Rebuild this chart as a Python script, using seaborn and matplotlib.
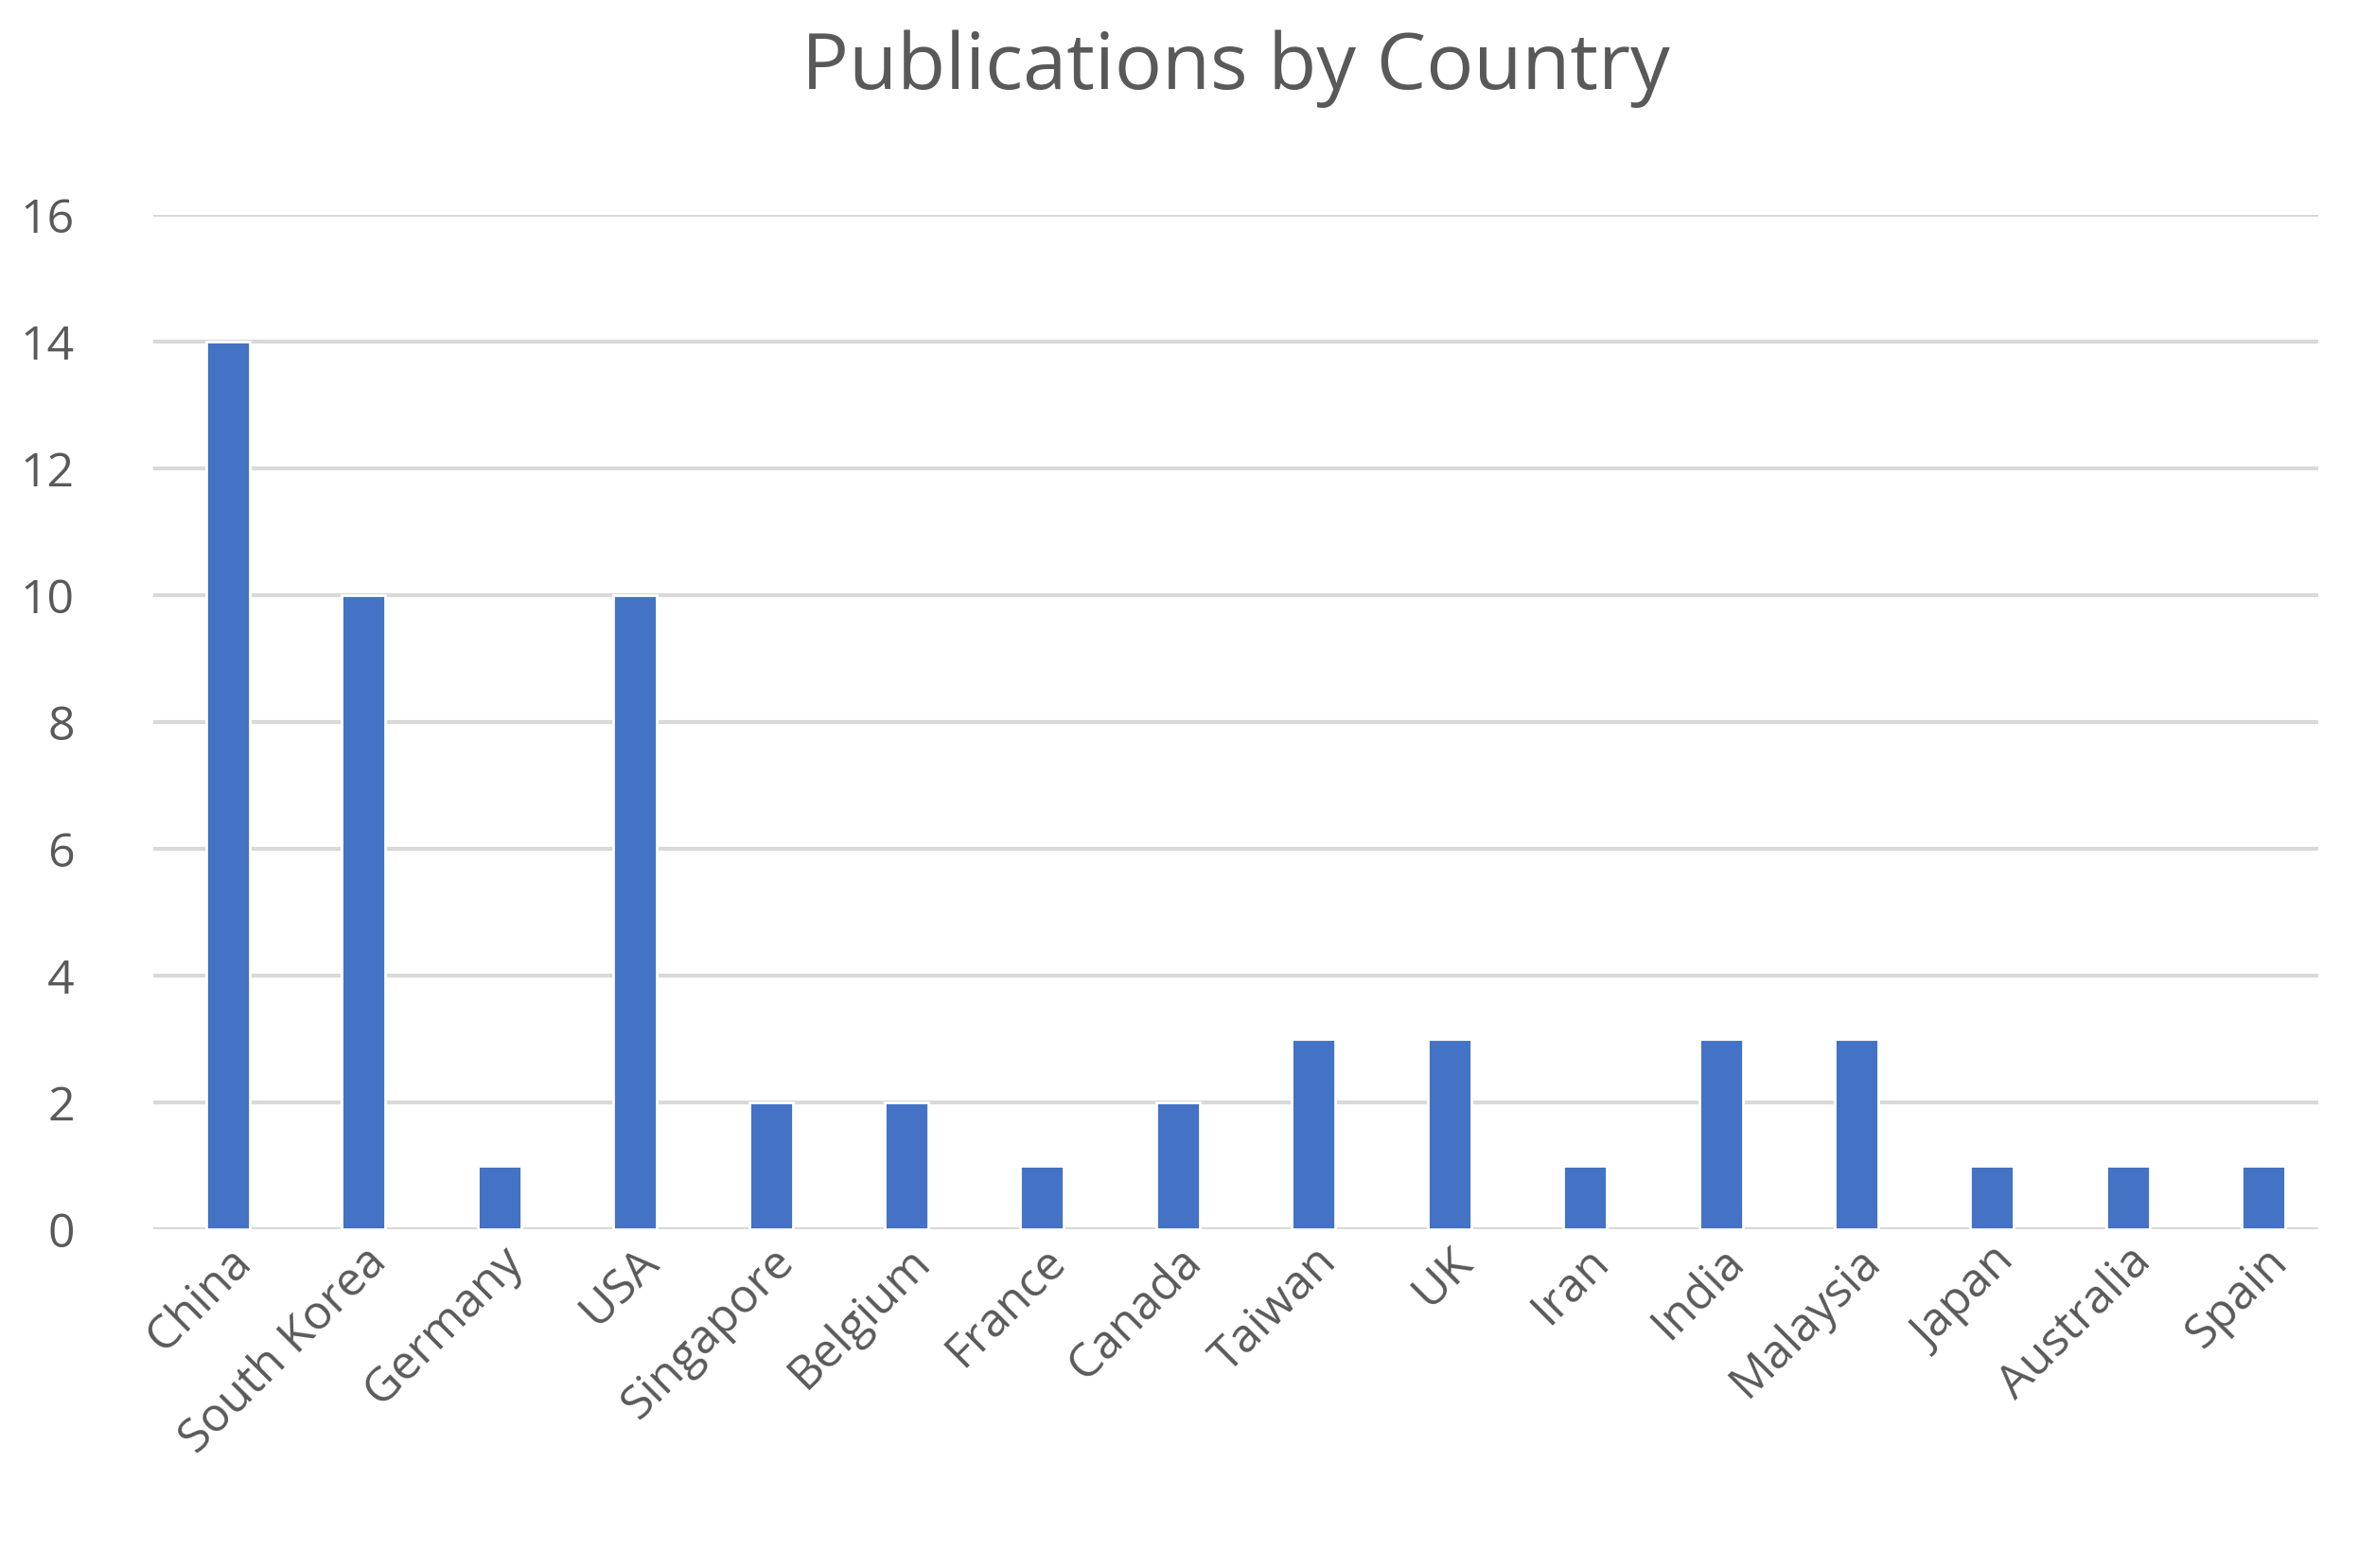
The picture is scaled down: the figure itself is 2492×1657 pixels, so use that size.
import matplotlib
matplotlib.use("Agg")
import matplotlib.pyplot as plt
import pandas as pd
import seaborn as sns

countries = ["China", "South Korea", "Germany", "USA", "Singapore", "Belgium", "France",
             "Canada", "Taiwan", "UK", "Iran", "India", "Malaysia", "Japan", "Australia", "Spain"]
publications = [14, 10, 1, 10, 2, 2, 1, 2, 3, 3, 1, 3, 3, 1, 1, 1]

df = pd.DataFrame({"Country": countries, "Publications": publications})

sns.set_style("white")
plt.rcParams["font.family"] = ["Open Sans", "DejaVu Sans"]

fig = plt.figure(figsize=(12.46, 8.285), dpi=200)
ax = fig.add_axes([0.065, 0.216, 0.918, 0.647])
sns.barplot(data=df, x="Country", y="Publications", color="#4472C4", width=0.32,
            saturation=1, ax=ax, zorder=3)

ax.set_ylim(0, 16)
ax.set_yticks(range(0, 17, 2))
ax.set_xlim(-0.55, len(countries) - 0.6)
ax.grid(axis="y", color="#D9D9D9", linewidth=1.5, zorder=0)
ax.set_xlabel("")
ax.set_ylabel("")
ax.set_title("Publications by Country", fontsize=30, color="#595959", pad=48)
ax.tick_params(axis="y", labelsize=18, labelcolor="#595959", length=0, pad=30)
ax.tick_params(axis="x", labelsize=18, labelcolor="#595959", length=0)
plt.setp(ax.get_xticklabels(), rotation=45, ha="right", rotation_mode="anchor")
sns.despine(left=True, bottom=True)
ax.axhline(0, color="#D9D9D9", linewidth=1.5, zorder=1)

fig.savefig("out.png", dpi=200)
